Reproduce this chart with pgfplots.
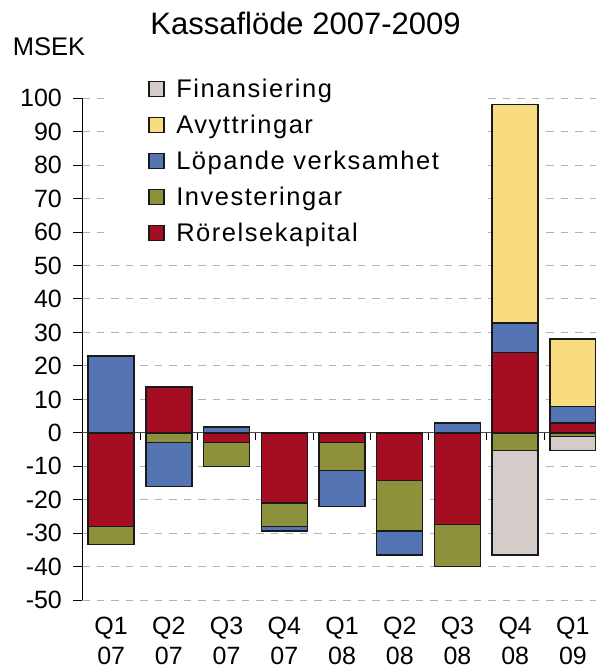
\documentclass[border=0pt]{standalone}
\usepackage{fontspec}
\setmainfont{Liberation Sans}
\usepackage{pgfplots}
\pgfplotsset{compat=1.18}
\usepackage{pgfplotstable}

\definecolor{cRed}{HTML}{A50D22}
\definecolor{cOlive}{HTML}{8E913B}
\definecolor{cBlue}{HTML}{5574B4}
\definecolor{cYellow}{HTML}{F9DB80}
\definecolor{cGrey}{HTML}{D4CCC9}

% positive parts
\pgfplotstableread{
x red olive blue yellow grey
0 0 0 23.0 0 0
1 13.7 0 0 0 0
2 0 0 1.8 0 0
3 0 0 0 0 0
4 0 0 0 0 0
5 0 0 0 0 0
6 0 0 3.0 0 0
7 24.0 0 8.8 65.4 0
8 2.9 0 4.9 20.3 0
}\posdata
% negative parts
\pgfplotstableread{
x red olive blue yellow grey
0 -28.0 -5.4 0 0 0
1 0 -2.9 -13.2 0 0
2 -2.9 -7.2 0 0 0
3 -20.9 -7.1 -1.3 0 0
4 -2.9 -8.4 -10.7 0 0
5 -14.3 -15.0 -7.2 0 0
6 -27.3 -12.7 0 0 0
7 0 -5.3 0 0 -31.2
8 0 -1.0 0 0 -4.3
}\negdata

\pgfplotsset{
  common/.style={
    scale only axis, width=513.7pt, height=502pt,
    at={(0pt,0pt)}, anchor=south west,
    xmin=-0.5, xmax=8.4, ymin=-50, ymax=100,
    ybar stacked, bar width=46pt, clip=false,
  },
  sq legend/.style={legend image code/.code={\draw[##1] (0pt,-4.95pt) rectangle (15pt,10.05pt);}},
  barstyle/.style={draw=black!90, line width=1.4pt, fill=#1, sq legend},
}

\begin{document}
\begin{tikzpicture}
\begin{axis}[common,
  axis y line*=left, axis x line*=bottom,
  x axis line style={draw=none},
  y axis line style={black, line width=1pt},
  xtick={0,...,8},
  xticklabels={{Q1\\07},{Q2\\07},{Q3\\07},{Q4\\07},{Q1\\08},{Q2\\08},{Q3\\08},{Q4\\08},{Q1\\09}},
  xtick style={draw=none},
  xticklabel style={align=center, font=\fontsize{25}{30.5}\selectfont, inner sep=0pt, anchor=north, yshift=-7.5pt},
  ytick={-50,-40,-30,-20,-10,0,10,20,30,40,50,60,70,80,90,100},
  yticklabels={-50,-40,-30,-20,-10,0,10,20,30,40,50,60,70,80,90,100},
  ytick style={black, line width=1pt},
  tick align=outside, major tick length=9pt,
  yticklabel style={font=\fontsize{25}{30}\selectfont, inner sep=0pt, anchor=east, xshift=-11.2pt},
  ymajorgrids,
  y grid style={dash pattern=on 7.5pt off 7pt, color=black!30, line width=1pt},
  ylabel={MSEK},
  ylabel style={rotate=-90, at={(axis description cs:-0.1355,1.0841)}, anchor=base west, inner sep=0pt, font=\fontsize{25.5}{30}\selectfont},
  title={Kassaflöde 2007-2009},
  title style={at={(axis description cs:0.4345,1.1259)}, anchor=base, yshift=-6pt, inner sep=0pt, font=\fontsize{31}{36}\selectfont},
  reverse legend,
  legend cell align=left,
  legend style={draw=none, fill=none, inner sep=0pt,
    at={(axis description cs:0.1279,1.0359)}, anchor=north west,
    font=\fontsize{25.5}{30}\selectfont\addfontfeatures{LetterSpace=6},
    row sep=13.5pt,
    nodes={inner sep=0pt, text height=17.5pt, text depth=5pt},
    /tikz/every odd column/.append style={column sep=11.7pt}},
]
\fill[white] (axis cs:-0.07,55) rectangle (axis cs:6.41,101);
\addplot[barstyle=cRed] table[x=x,y=red] {\posdata};
\addlegendentry{Rörelsekapital}
\addplot[barstyle=cOlive] table[x=x,y=olive] {\posdata};
\addlegendentry{Investeringar}
\addplot[barstyle=cBlue] table[x=x,y=blue] {\posdata};
\addlegendentry{Löpande verksamhet}
\addplot[barstyle=cYellow] table[x=x,y=yellow] {\posdata};
\addlegendentry{Avyttringar}
\addplot[barstyle=cGrey] table[x=x,y=grey] {\posdata};
\addlegendentry{Finansiering}
\end{axis}
\begin{axis}[common,
  axis x line=middle, axis y line=none,
  axis line style={-, draw=black!70, line width=1pt},
  xtick={0.5,1.5,...,7.5}, xticklabels={},
  ytick=\empty,
  xtick style={black, line width=1pt},
  xtick align=outside, major tick length=7pt,
]
\addplot[barstyle=cRed] table[x=x,y=red] {\negdata};
\addplot[barstyle=cOlive] table[x=x,y=olive] {\negdata};
\addplot[barstyle=cBlue] table[x=x,y=blue] {\negdata};
\addplot[barstyle=cYellow] table[x=x,y=yellow] {\negdata};
\addplot[barstyle=cGrey] table[x=x,y=grey] {\negdata};
\end{axis}
\pgfresetboundingbox
\path[use as bounding box] (-82.3pt,-70.8pt) rectangle (513.7pt,600.2pt);
\end{tikzpicture}
\end{document}
